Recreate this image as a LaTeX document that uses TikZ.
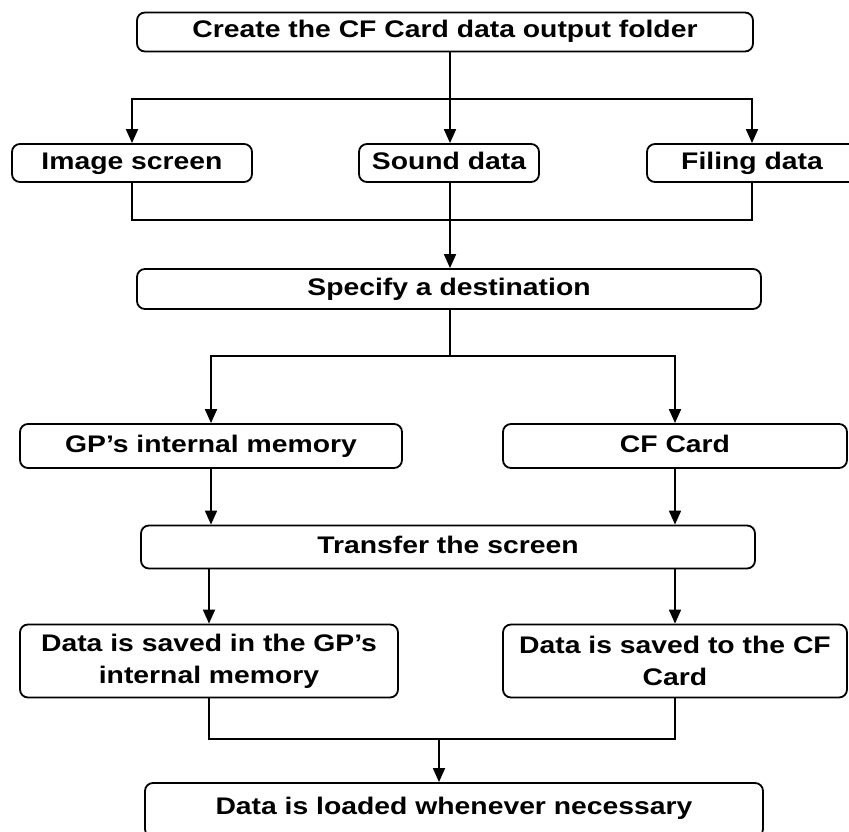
\documentclass[tikz,border=0pt]{standalone}
\usepackage{fontspec}
\setmainfont{Liberation Sans}[FakeStretch=1.18]
\usetikzlibrary{arrows.meta}

\begin{document}
\begin{tikzpicture}[x=1pt,y=-1pt,>={Triangle[length=14pt,width=12pt]},
  box/.style={draw,line width=1.8pt,rounded corners=8pt,align=center,inner sep=0pt,
    font=\bfseries\fontsize{24}{32}\selectfont},
  oneline/.style={text height=17pt,text depth=5pt},
  twoline/.style={},
  lastline/.style={text height=17pt,text depth=9pt},
  link/.style={line width=1.8pt}]
\useasboundingbox (0,0) rectangle (849,832);
\foreach \name/\x/\y/\w/\h/\sty/\txt in {
create/445/32/616/39/oneline/{Create the CF Card data output folder},
image/132/163/240/38/oneline/{Image screen},
sound/449/163/180/38/oneline/{Sound data},
filing/752/163/210/38/oneline/{Filing data},
specify/449/289/624/40/oneline/{Specify a destination},
gpmem/211/446/382/44/oneline/{GP’s internal memory},
cfcard/675/446/344/44/oneline/{CF Card},
transfer/448/547/614/43/oneline/{Transfer the screen},
gpsaved/209/661/378/73/twoline/{Data is saved in the GP’s\\internal memory},
cfsaved/675/661/344/73/twoline/{Data is saved to the CF\\Card},
loaded/454/810/618/54/lastline/{Data is loaded whenever necessary}}
{
  \node[box,\sty,minimum width=\w,minimum height=\h] (\name) at (\x,\y) {\txt};
}
\coordinate (split1) at (450,99);
\coordinate (merge1) at (450,220);
\coordinate (split2) at (450,356);
\coordinate (merge2) at (439,739);
% first fan-out and fan-in
\draw[link,->] (create.south -| split1) -- (sound.north -| split1);
\draw[link,->] (split1) -| (image.north);
\draw[link,->] (split1) -| (filing.north);
\draw[link] (image.south) |- (merge1) -| (filing.south);
\draw[link,->] (sound.south -| merge1) -- (specify.north -| merge1);
% two destinations
\draw[link] (specify.south -| split2) -- (split2);
\draw[link,->] (split2) -| (gpmem.north);
\draw[link,->] (split2) -| (cfcard.north);
\foreach \a/\b in {gpmem/transfer,cfcard/transfer}{\draw[link,->] (\a.south) -- (\a.south |- \b.north);}
\foreach \b in {gpsaved,cfsaved}{\draw[link,->] (transfer.south -| \b.north) -- (\b.north);}
\draw[link] (gpsaved.south) |- (merge2) -| (cfsaved.south);
\draw[link,->] (merge2) -- (merge2 |- loaded.north);
\end{tikzpicture}
\end{document}
